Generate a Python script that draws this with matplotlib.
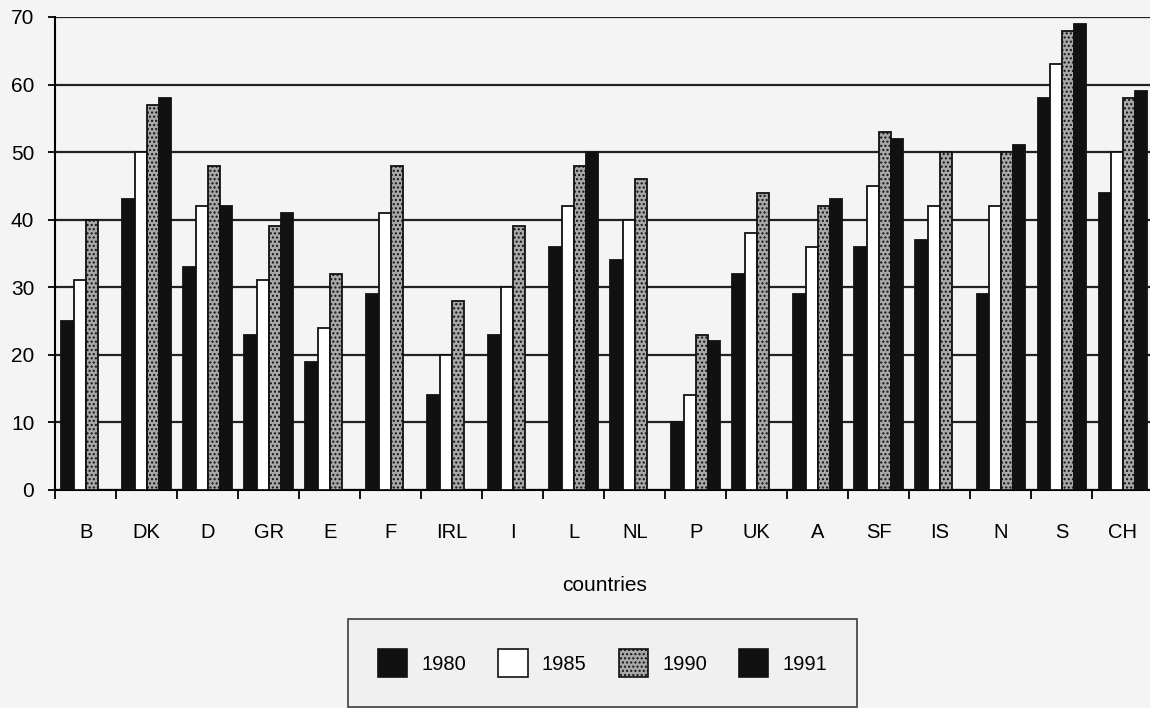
import numpy as np
import matplotlib
matplotlib.use("Agg")
import matplotlib.pyplot as plt
from matplotlib.patches import Patch

countries = ["B", "DK", "D", "GR", "E", "F", "IRL", "I", "L", "NL", "P", "UK", "A", "SF", "IS", "N", "S", "CH"]
years = ["1980", "1985", "1990", "1991"]
v1980 = [25, 43, 33, 23, 19, 29, 14, 23, 36, 34, 10, 32, 29, 36, 37, 29, 58, 44]
v1985 = [31, 50, 42, 31, 24, 41, 20, 30, 42, 40, 14, 38, 36, 45, 42, 42, 63, 50]
v1990 = [40, 57, 48, 39, 32, 48, 28, 39, 48, 46, 23, 44, 42, 53, 50, 50, 68, 58]
v1991 = [np.nan, 58, 42, 41, np.nan, np.nan, np.nan, np.nan, 50, np.nan, 22, np.nan, 43, 52, np.nan, 51, 69, 59]
yticks = [0, 10, 20, 30, 40, 50, 60, 70]

plt.rcParams['font.family'] = ['Liberation Sans', 'DejaVu Sans']
plt.rcParams['hatch.color'] = '#555555'
fig = plt.figure(figsize=(11.5, 7.08), dpi=100, facecolor='#f4f4f4')
ax = fig.add_axes([0.048, 0.308, 0.955, 0.668], facecolor='#f4f4f4')

x = np.arange(len(countries))
w = 0.2
series = [v1980, v1985, v1990, v1991]
faces = ['#111111', '#ffffff', '#a8a8a8', '#111111']
hatches = [None, None, '....', None]
for i, (vals, fc, h) in enumerate(zip(series, faces, hatches)):
    ax.bar(x + (i - 1.5) * w, vals, width=w, color=fc, edgecolor='#111111',
           linewidth=1.3, hatch=h, zorder=3, label=years[i])

ax.set_xlim(-0.5, len(countries) - 0.5)
ax.set_ylim(0, 70)
ax.set_yticks(yticks)
ax.yaxis.grid(True, color='#222222', linewidth=1.6, zorder=1)
ax.set_axisbelow(True)
for s in ['top', 'right']:
    ax.spines[s].set_visible(False)
ax.spines['left'].set_linewidth(1.5)
ax.spines['bottom'].set_linewidth(1.5)
ax.tick_params(axis='y', length=5, width=1.3, pad=10, labelsize=15)
ax.set_xticks(x)
ax.set_xticklabels(countries)
ax.set_xticks(np.arange(len(countries) + 1) - 0.5, minor=True)
ax.tick_params(axis='x', which='major', length=0, pad=24, labelsize=14.5)
ax.tick_params(axis='x', which='minor', length=6.5, width=1.3)
ax.set_xlabel('countries', fontsize=15, labelpad=24)

handles = [Patch(facecolor=fc, edgecolor='#111111', hatch=h, label=y, linewidth=1.2)
           for fc, h, y in zip(faces, hatches, years)]
leg = fig.legend(handles=handles, loc='upper center', bbox_to_anchor=(0.524, 0.1255),
                 ncol=4, fontsize=14.5, frameon=True, fancybox=False,
                 handlelength=1.45, handleheight=1.75, columnspacing=1.6,
                 handletextpad=0.7, borderpad=1.5, borderaxespad=0)
leg.get_frame().set_edgecolor('#222222')
leg.get_frame().set_facecolor('#efefef')
leg.get_frame().set_linewidth(1.3)

fig.savefig('out.png', dpi=100, facecolor=fig.get_facecolor())
